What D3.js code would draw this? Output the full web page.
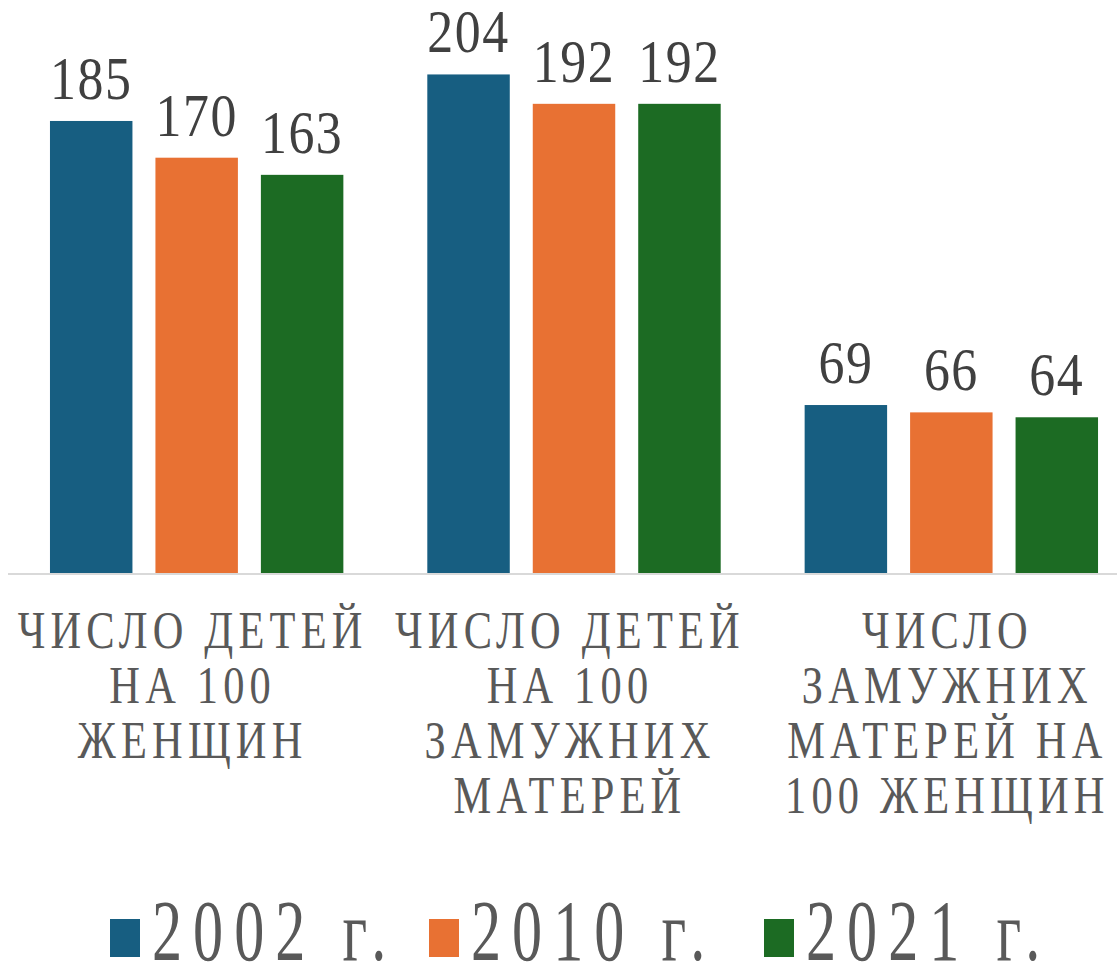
<!DOCTYPE html>
<html><head><meta charset="utf-8">
<script src="https://cdn.jsdelivr.net/npm/d3@7"></script>
<style>html,body{margin:0;padding:0;background:#fff;overflow:hidden}</style>
</head><body>
<svg id="c" width="1117" height="969"></svg>
<script>
const categories = [
  ["ЧИСЛО ДЕТЕЙ", "НА 100", "ЖЕНЩИН"],
  ["ЧИСЛО ДЕТЕЙ", "НА 100", "ЗАМУЖНИХ", "МАТЕРЕЙ"],
  ["ЧИСЛО", "ЗАМУЖНИХ", "МАТЕРЕЙ НА", "100 ЖЕНЩИН"]
];
const series = ["2002 г.", "2010 г.", "2021 г."];
const values2002 = [185, 204, 69];
const values2010 = [170, 192, 66];
const values2021 = [163, 192, 64];
const colors = ["#175E81", "#E87133", "#1C6B23"];

const seriesValues = [values2002, values2010, values2021];
const svg = d3.select("#c");

const x0 = d3.scaleBand().domain(d3.range(categories.length)).range([8, 1140]).padding(0);
const x1 = d3.scaleBand().domain(d3.range(series.length)).range([0, x0.bandwidth()])
  .paddingInner(0.218).paddingOuter(0.398);
const y = d3.scaleLinear().domain([0, 234.4]).range([574, 0]);

function stext(sel, x, yy, txt, size, fill, ls, sx, anchor) {
  return sel.append("text")
    .attr("transform", `translate(${x},${yy}) scale(${sx},1)`)
    .attr("text-anchor", anchor || "middle")
    .style("font-family", '"Liberation Serif"')
    .attr("font-size", size)
    .attr("letter-spacing", ls).attr("fill", fill)
    .text(txt);
}

const data = [];
categories.forEach((c, i) => series.forEach((s, j) => data.push({i, j, v: seriesValues[j][i]})));

svg.selectAll("rect.bar").data(data).join("rect").attr("class", "bar")
  .attr("x", d => x0(d.i) + x1(d.j))
  .attr("width", x1.bandwidth())
  .attr("y", d => y(d.v))
  .attr("height", d => y(0) - y(d.v))
  .attr("fill", d => colors[d.j]);

// axis baseline
svg.append("line").attr("x1", 8).attr("x2", 1117).attr("y1", y(0)).attr("y2", y(0))
  .attr("stroke", "#D9D9D9").attr("stroke-width", 2);

// value labels
data.forEach(d => {
  stext(svg, x0(d.i) + x1(d.j) + x1.bandwidth() / 2, y(d.v) - 22, String(d.v), 61, "#404040", 1.8, 0.85);
});

// category labels
categories.forEach((lines, i) => {
  lines.forEach((ln, k) => {
    stext(svg, x0(i) + x0.bandwidth() / 2 - 4, 648 + k * 55, ln, 53, "#595959", 6.5, 0.8);
  });
});

// legend
const legendX = [110, 429, 764];
series.forEach((s, j) => {
  svg.append("rect").attr("x", legendX[j]).attr("y", 919).attr("width", 30).attr("height", 38)
    .attr("fill", colors[j]);
  stext(svg, legendX[j] + 42, 960, s, 86, "#595959", 15.7, 0.7, "start");
});
</script>
</body></html>
